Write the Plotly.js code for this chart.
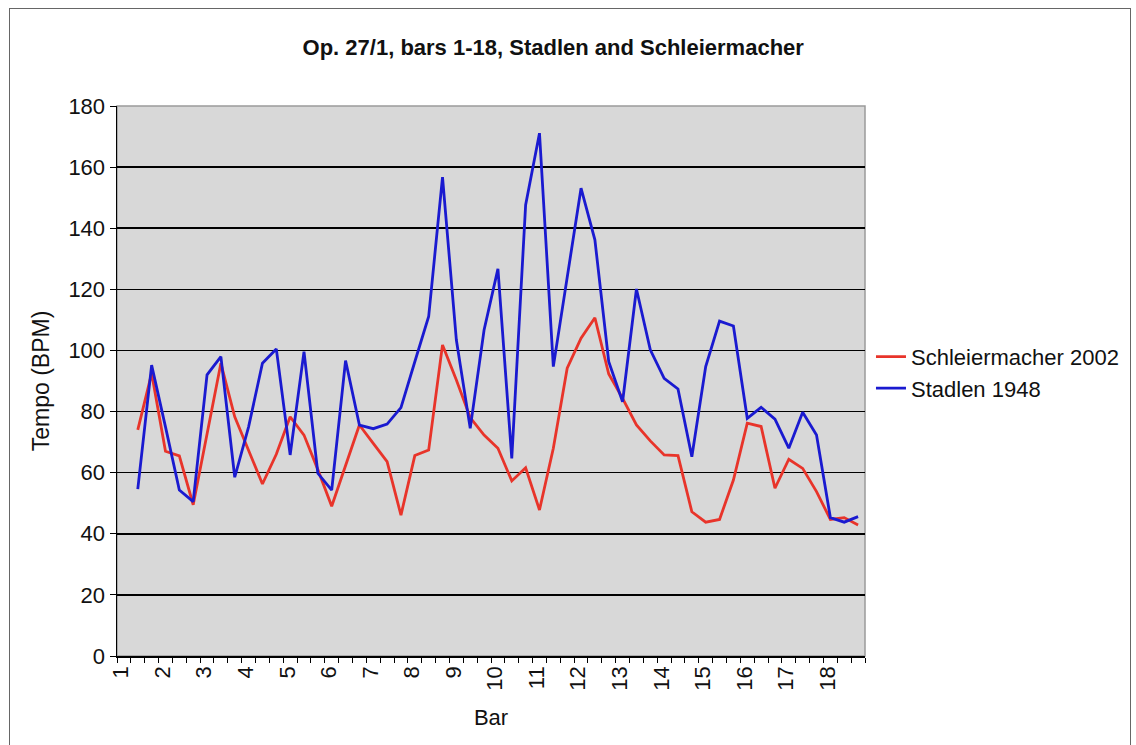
<!DOCTYPE html>
<html>
<head>
<meta charset="utf-8">
<script src="https://cdn.plot.ly/plotly-3.0.1.min.js"></script>
<style>
  html, body { margin: 0; padding: 0; background: #ffffff; }
  #chart { position: absolute; left: 0; top: 0; width: 1136px; height: 745px; }
  #frame { position: absolute; left: 9px; top: 8px; width: 1120px; height: 800px;
           border: 1px solid #666666; pointer-events: none; }
</style>
</head>
<body>
<div id="chart"></div>
<div id="frame"></div>
<script>
// Bars 1-18, three beats each (54 beat slots)
const barLabels = ['1','2','3','4','5','6','7','8','9','10','11','12','13','14','15','16','17','18'];
const beatsPerBar = 3;

const schleiermacher2002 = [null, 74, 92.5, 67, 65.5, 49.5, 73, 95.8, 78.3, 67, 56.3, 66, 78.3, 72.3, 61, 49, 62,
  75.6, 69.6, 63.6, 46.1, 65.6, 67.4, 101.8, 90.3, 78, 72.3, 68, 57.3, 61.6, 47.8, 68, 94.2, 104, 110.7,
  92.3, 84.3, 75.6, 70.4, 65.8, 65.6, 47.2, 43.8, 44.7, 57.6, 76.2, 75.1, 54.9, 64.4, 61.4, 53.8, 44.7, 45.3, 42.9];

const stadlen1948 = [null, 54.6, 95.2, 75, 54.3, 50.5, 92, 98, 58.5, 75, 95.8, 100.5, 65.8, 99.6, 59.8, 54.3, 96.7,
  75.6, 74.4, 75.9, 81.3, 96.3, 111.1, 156.7, 103.4, 74.5, 106.7, 126.7, 64.7, 147.6, 171.1, 94.7, 124.2,
  153.1, 136.2, 96.3, 83.2, 120.1, 100.2, 90.9, 87.4, 65.2, 94.7, 109.6, 108, 77.8, 81.4, 77.5, 68, 79.8,
  72.3, 45.3, 43.8, 45.6];

const nSlots = barLabels.length * beatsPerBar;
const slots = Array.from({length: nSlots}, (_, i) => i + 1);
// label sits just left of the first beat slot of each bar
const labelOffset = 0.8;
const tickPositions = barLabels.map((_, k) => k * beatsPerBar + labelOffset);

const FONT = 'Liberation Sans, Arial, Helvetica, sans-serif';
const FS = 22;

const traces = [
  { x: slots, y: schleiermacher2002, type: 'scatter', mode: 'lines', name: 'Schleiermacher 2002',
    line: { color: '#e8342a', width: 2.8 }, connectgaps: false },
  { x: slots, y: stadlen1948, type: 'scatter', mode: 'lines', name: 'Stadlen 1948',
    line: { color: '#1a1ad0', width: 2.8 }, connectgaps: false }
];

const layout = {
  width: 1136, height: 745,
  margin: { l: 117, r: 271, t: 106, b: 89 },
  paper_bgcolor: 'rgba(0,0,0,0)',
  plot_bgcolor: '#d8d8d8',
  font: { family: FONT, size: FS, color: '#111111' },
  title: { text: 'Op. 27/1, bars 1-18, Stadlen and Schleiermacher',
           font: { family: FONT, size: FS, weight: 700, color: '#111111' },
           xref: 'container', x: 0.487, xanchor: 'center',
           yref: 'container', y: 0.937, yanchor: 'middle' },
  xaxis: {
    range: [0.5, nSlots + 0.5],
    tickmode: 'array', tickvals: tickPositions, ticktext: barLabels,
    tickangle: -90, ticks: '', showgrid: false, zeroline: false,
    showline: true, linecolor: '#000000', linewidth: 1.5,
    tickfont: { family: FONT, size: FS, color: '#111111' },
    minor: { tickmode: 'linear', tick0: 0.5, dtick: 1, ticks: 'outside', ticklen: 5,
             tickcolor: '#000000', tickwidth: 1, showgrid: false },
    title: { text: 'Bar', font: { family: FONT, size: FS, color: '#111111' }, standoff: 20 }
  },
  yaxis: {
    range: [0, 180], tickmode: 'linear', tick0: 0, dtick: 20,
    ticks: 'outside', ticklen: 6, tickcolor: '#000000', tickwidth: 1,
    showgrid: true, gridcolor: '#000000', gridwidth: 1.5, zeroline: false,
    showline: true, linecolor: '#000000', linewidth: 1.5,
    tickfont: { family: FONT, size: FS, color: '#111111' },
    title: { text: 'Tempo (BPM)', font: { family: FONT, size: 23, color: '#111111' }, standoff: 12 }
  },
  shapes: [
    { type: 'rect', xref: 'paper', yref: 'paper', x0: 0, x1: 1, y0: 0, y1: 1,
      line: { color: '#9a9a9a', width: 1.5 }, fillcolor: 'rgba(0,0,0,0)', layer: 'below' }
  ],
  showlegend: true,
  legend: { x: 1.008, xanchor: 'left', y: 0.515, yanchor: 'middle',
            bgcolor: 'rgba(0,0,0,0)', borderwidth: 0,
            font: { family: FONT, size: FS, color: '#111111' },
            tracegroupgap: 0 }
};

Plotly.newPlot('chart', traces, layout, { displayModeBar: false, staticPlot: true });
</script>
</body>
</html>
